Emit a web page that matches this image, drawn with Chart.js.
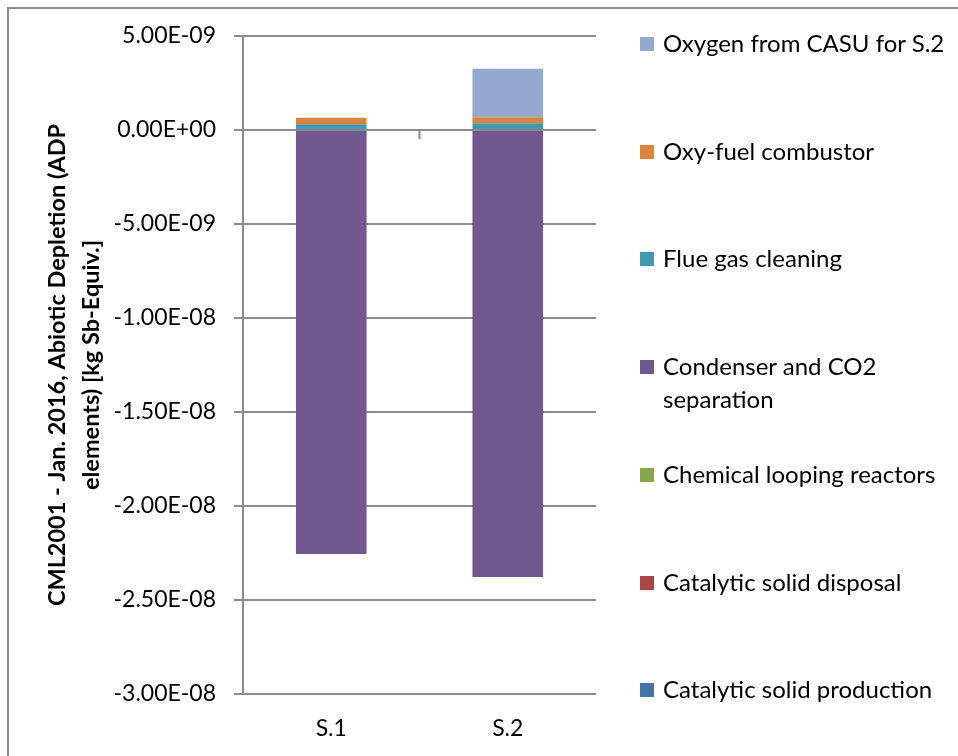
<!DOCTYPE html>
<html>
<head>
<meta charset="utf-8">
<script src="https://cdn.jsdelivr.net/npm/chart.js@4/dist/chart.umd.min.js"></script>
<style>
  html, body { margin: 0; padding: 0; background: #fff; }
  #wrap { position: relative; width: 958px; height: 756px; overflow: hidden; font-family: Lato, sans-serif; }
  #frame { position: absolute; left: 7px; top: 7px; width: 1000px; height: 800px; border-left: 2px solid #8c8c8c; border-top: 2px solid #8c8c8c; }
  #chart { position: absolute; left: 0; top: 0; }
  #legend { position: absolute; left: 640px; top: 0; width: 316px; }
  .item { position: absolute; left: 0; font-size: 24px; line-height: 33px; color: #000; }
  .item .box { position: absolute; left: 0; top: 11px; width: 14px; height: 14px; }
  .item .txt { position: absolute; left: 23px; top: 0; width: 290px; }
</style>
</head>
<body>
<div id="wrap">
  <div id="frame"></div>
  <canvas id="chart" width="958" height="756"></canvas>
  <div id="legend"></div>
</div>
<script>
const categories = ['S.1', 'S.2'];

const seriesNames = [
  'Catalytic solid production',
  'Catalytic solid disposal',
  'Chemical looping reactors',
  'Condenser and CO2 separation',
  'Flue gas cleaning',
  'Oxy-fuel combustor',
  'Oxygen from CASU for S.2'
];

const catalyticProduction = [8e-12, 8e-12];
const catalyticDisposal = [4e-12, 4e-12];
const chemicalLooping = [1.2e-11, 1.2e-11];
const condenserCO2 = [-2.255e-8, -2.378e-8];
const flueGasCleaning = [2.8e-10, 3.3e-10];
const oxyFuelCombustor = [3.5e-10, 3.2e-10];
const oxygenCASU = [0, 2.59e-9];

const seriesColors = ['#4572A7', '#AA4643', '#89A54E', '#71588F', '#4198AF', '#DB843D', '#93A9CF'];

const yMin = -3e-8;
const yMax = 5e-9;
const yStep = 5e-9;

const gridColor = '#8c8c8c';
const font = 'Lato';

const seriesValues = [catalyticProduction, catalyticDisposal, chemicalLooping, condenserCO2,
  flueGasCleaning, oxyFuelCombustor, oxygenCASU];

function fmtExp(v) {
  let s = Number(v).toExponential(2);
  let [m, e] = s.split('e');
  let sign = e[0] === '-' ? '-' : '+';
  let n = e.replace(/[+-]/, '');
  if (n.length < 2) n = '0' + n;
  return m.toUpperCase() + 'E' + sign + n;
}

// zero line over the bars + small category divider tick
const zeroLine = {
  id: 'zeroLine',
  afterDatasetsDraw(chart) {
    const {ctx, chartArea, scales: {x, y}} = chart;
    const py = y.getPixelForValue(0);
    const px = (x.getPixelForValue(0) + x.getPixelForValue(1)) / 2;
    ctx.save();
    ctx.strokeStyle = gridColor;
    ctx.lineWidth = 2;
    ctx.beginPath();
    ctx.moveTo(chartArea.left, py);
    ctx.lineTo(chartArea.right, py);
    ctx.moveTo(px, py);
    ctx.lineTo(px, py + 9);
    ctx.stroke();
    ctx.restore();
  }
};

const chart = new Chart(document.getElementById('chart'), {
  type: 'bar',
  data: {
    labels: categories,
    datasets: seriesNames.map((name, i) => ({
      label: name,
      data: seriesValues[i],
      backgroundColor: seriesColors[i],
      borderWidth: 0,
      barPercentage: 1,
      categoryPercentage: 0.4
    }))
  },
  options: {
    responsive: false,
    animation: false,
    layout: { padding: { left: 20, top: 36, right: 362, bottom: 20 } },
    plugins: {
      legend: { display: false },
      tooltip: { enabled: false }
    },
    scales: {
      x: {
        stacked: true,
        afterFit: s => { s.height = 42; },
        grid: { display: false, drawTicks: false },
        border: { display: false },
        ticks: { color: '#000', padding: 21, font: { family: font, size: 23 } }
      },
      y: {
        stacked: true,
        min: yMin,
        max: yMax,
        afterFit: s => { s.width = 223; },
        ticks: {
          stepSize: yStep,
          color: '#000',
          padding: 18,
          font: { family: font, size: 23 },
          callback: v => fmtExp(v)
        },
        grid: { color: gridColor, lineWidth: 2, tickLength: 9 },
        border: { color: gridColor, width: 2 },
        title: {
          display: true,
          text: ['CML2001 - Jan. 2016, Abiotic Depletion (ADP', 'elements) [kg Sb-Equiv.]'],
          color: '#000',
          font: { family: font, size: 23.5, weight: 'bold', lineHeight: 1.42 },
          padding: { top: 21, bottom: 0 }
        }
      }
    }
  },
  plugins: [zeroLine]
});

// legend on the right, top item = last series
const legend = document.getElementById('legend');
const items = chart.data.datasets.slice().reverse();
items.forEach((ds, i) => {
  const el = document.createElement('div');
  el.className = 'item';
  el.style.top = (26 + i * 107.7) + 'px';
  const box = document.createElement('div');
  box.className = 'box';
  box.style.background = ds.backgroundColor;
  const txt = document.createElement('div');
  txt.className = 'txt';
  txt.textContent = ds.label;
  el.appendChild(box);
  el.appendChild(txt);
  legend.appendChild(el);
});
</script>
</body>
</html>
